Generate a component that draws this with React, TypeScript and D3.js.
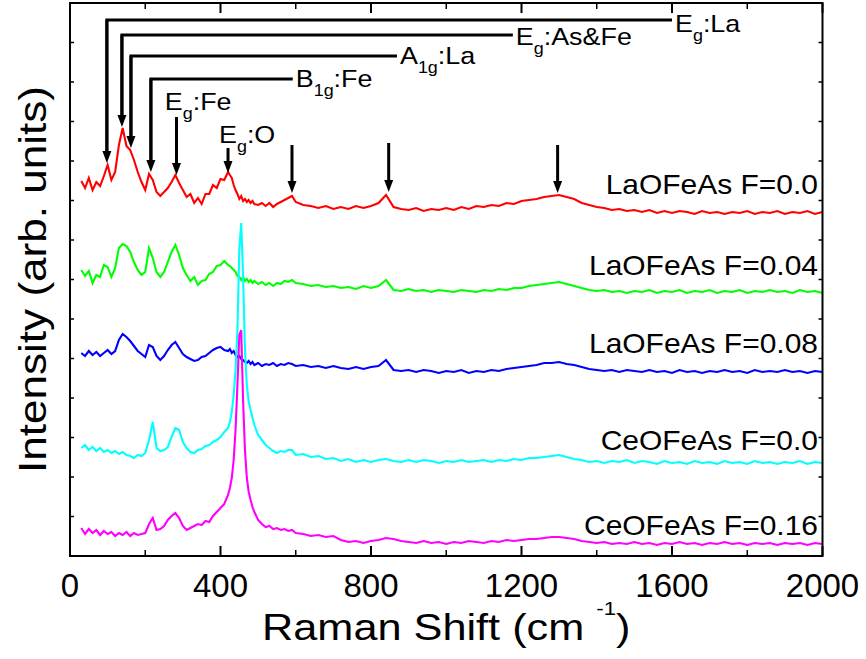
import * as d3 from 'd3';

// Raman shift grid (cm^-1), shared by all spectra
const shift = [
  30, 40, 50, 60, 70, 80, 90, 100, 110, 120,
  130, 140, 150, 160, 170, 180, 190, 200, 210, 220,
  230, 240, 250, 260, 270, 280, 290, 300, 310, 320,
  330, 340, 350, 360, 370, 380, 390, 400, 410, 420,
  425, 430, 435, 440, 445, 450, 455, 460, 465, 470, 475, 480, 485, 490,
  500, 510, 520, 530, 540, 550, 560, 570, 580, 590, 600,
  620, 640, 660, 680, 700, 720, 740, 760, 780, 800,
  820, 840, 860, 880, 900, 920, 940, 960, 980, 1000,
  1020, 1040, 1060, 1080, 1100, 1120, 1140, 1160, 1180, 1200,
  1220, 1240, 1260, 1280, 1300, 1320, 1340, 1360, 1380, 1400,
  1420, 1440, 1460, 1480, 1500, 1520, 1540, 1560, 1580, 1600,
  1620, 1640, 1660, 1680, 1700, 1720, 1740, 1760, 1780, 1800,
  1820, 1840, 1860, 1880, 1900, 1920, 1940, 1960, 1980, 2000,
];

// intensities (arb. units, offset stacked)
const laF000 = [
  375, 368, 378, 366, 374, 370, 380, 391, 376, 384,
  411, 428, 410, 406, 396, 384, 374, 366, 382, 376,
  364, 360, 364, 368, 374, 381, 373, 366, 359, 362,
  353, 358, 352, 362, 362, 371, 368, 377, 376, 384,
  381, 378, 371, 366, 362, 357, 360, 355, 357, 354, 356, 353, 355, 352,
  351, 353, 350, 353, 349, 352, 354, 356, 358, 360, 354,
  351, 350, 348, 350, 347, 349, 347, 350, 348, 350,
  353, 361, 349, 347, 346, 348, 345, 347, 346, 348,
  346, 349, 347, 350, 349, 351, 350, 353, 352, 355,
  356, 357, 359, 360, 361, 359, 357, 353, 351, 349,
  348, 346, 347, 345, 346, 344, 346, 343, 345, 343,
  345, 344, 342, 345, 343, 344, 342, 344, 343, 345,
  342, 344, 343, 345, 342, 344, 343, 345, 342, 344,
];

const laF004 = [
  286, 280, 285, 273, 281, 279, 291, 289, 279, 288,
  308, 312, 310, 304, 294, 286, 281, 284, 308, 298,
  284, 279, 284, 294, 304, 311, 301, 288, 281, 275,
  279, 271, 275, 276, 282, 284, 290, 291, 295, 291,
  290, 288, 286, 284, 280, 279, 276, 279, 275, 277, 274, 276, 273, 275,
  272, 274, 271, 273, 270, 273, 272, 275, 274, 276, 273,
  272, 270, 271, 269, 270, 268, 269, 267, 270, 268,
  270, 276, 266, 265, 267, 265, 266, 264, 266, 265,
  264, 266, 265, 264, 266, 265, 267, 266, 268, 268,
  270, 271, 272, 273, 274, 272, 270, 268, 266, 265,
  266, 264, 265, 263, 265, 264, 266, 263, 265, 264,
  266, 263, 265, 264, 266, 263, 265, 264, 266, 263,
  265, 264, 266, 264, 265, 263, 266, 264, 265, 263,
];

const laF008 = [
  203, 200, 205, 201, 204, 200, 203, 206, 202, 205,
  216, 222, 219, 215, 210, 205, 202, 199, 211, 209,
  200, 196, 200, 206, 211, 214, 208, 202, 199, 197,
  195, 196, 199, 200, 203, 206, 208, 209, 206, 205,
  207, 203, 205, 201, 199, 200, 197, 196, 194, 193, 195, 192, 194, 191,
  193, 190, 192, 191, 193, 190, 192, 191, 193, 192, 190,
  191, 189, 190, 188, 190, 188, 187, 189, 187, 189,
  190, 196, 186, 185, 186, 184, 186, 185, 183, 185,
  184, 186, 183, 185, 184, 186, 185, 187, 188, 189,
  190, 191, 193, 193, 194, 192, 191, 189, 187, 186,
  185, 186, 184, 186, 185, 184, 186, 184, 185, 183,
  186, 184, 185, 183, 185, 184, 186, 184, 185, 183,
  186, 184, 185, 184, 186, 184, 185, 183, 185, 184,
];

const ceF000 = [
  108, 111, 106, 109, 105, 108, 104, 106, 103, 105,
  102, 104, 101, 100, 98, 101, 100, 103, 116, 134,
  108, 105, 106, 109, 119, 128, 126, 114, 108, 104,
  103, 106, 107, 110, 111, 114, 116, 119, 124, 128,
  134, 144, 161, 186, 226, 306, 333, 281, 206, 171, 154, 146, 138, 131,
  121, 116, 111, 108, 105, 103, 105, 104, 106, 106, 101,
  102, 99, 100, 97, 98, 95, 97, 94, 96, 94,
  96, 97, 95, 94, 96, 94, 96, 95, 93, 95,
  94, 96, 94, 95, 96, 94, 96, 95, 97, 96,
  98, 98, 99, 100, 101, 99, 97, 96, 94, 95,
  93, 95, 94, 96, 93, 95, 94, 92, 95, 93,
  94, 92, 95, 93, 94, 92, 95, 93, 94, 92,
  95, 93, 94, 92, 94, 93, 95, 92, 94, 93,
];

const ceF016 = [
  28, 22, 27, 23, 26, 21, 25, 22, 24, 20,
  23, 21, 24, 20, 23, 21, 22, 23, 32, 38,
  26, 27, 30, 36, 40, 43, 38, 30, 26, 28,
  30, 32, 31, 35, 34, 40, 44, 48, 52, 61,
  68, 78, 96, 126, 171, 221, 226, 156, 106, 78, 64, 56, 49, 44,
  36, 32, 29, 30, 27, 28, 26, 27, 25, 26, 23,
  22, 20, 21, 19, 20, 16, 14, 15, 13, 15,
  16, 18, 17, 15, 14, 13, 15, 13, 14, 12,
  14, 13, 15, 14, 13, 15, 14, 16, 15, 16,
  17, 17, 18, 19, 19, 18, 17, 15, 14, 13,
  14, 12, 13, 12, 14, 12, 13, 11, 13, 12,
  14, 12, 13, 11, 13, 12, 14, 12, 13, 11,
  13, 12, 13, 11, 13, 12, 13, 11, 13, 12,
];

const seriesNames = [
  'LaOFeAs F=0.0',
  'LaOFeAs F=0.04',
  'LaOFeAs F=0.08',
  'CeOFeAs F=0.0',
  'CeOFeAs F=0.16',
];
const seriesValues = [laF000, laF004, laF008, ceF000, ceF016];
const seriesColors = ['#ff0000', '#00ff00', '#0000ff', '#00ffff', '#ff00ff'];
// where each name sits (baseline intensity)
const labelLevels = [362, 281, 203, 106, 21];

const xTicks = [0, 400, 800, 1200, 1600, 2000];
const xMinorTicks = [200, 600, 1000, 1400, 1800];

// phonon mode assignments with a bracket line from the label to the peak
const bracketModes = [
  { main: 'E', sub: 'g', rest: ':La', shift: 98, tip: 393, level: 536, end: 1600, textY: 524 },
  { main: 'E', sub: 'g', rest: ':As&Fe', shift: 138, tip: 429, level: 521, end: 1177, textY: 511 },
  { main: 'A', sub: '1g', rest: ':La', shift: 162, tip: 408, level: 500, end: 869, textY: 492 },
  { main: 'B', sub: '1g', rest: ':Fe', shift: 215, tip: 384, level: 477, end: 592, textY: 469 },
];

// straight arrows (some labelled)
const arrowModes = [
  { main: 'E', sub: 'g', rest: ':Fe', shift: 283, from: 439, tip: 381, textX: 252, textY: 446 },
  { main: 'E', sub: 'g', rest: ':O', shift: 420, from: 408, tip: 383, textX: 396, textY: 413 },
  { main: '', sub: '', rest: '', shift: 590, from: 411, tip: 363, textX: 0, textY: 0 },
  { main: '', sub: '', rest: '', shift: 847, from: 413, tip: 364, textX: 0, textY: 0 },
  { main: '', sub: '', rest: '', shift: 1296, from: 411, tip: 363, textX: 0, textY: 0 },
];

const width = 866;
const height = 659;
const margin = { top: 3, right: 43.5, bottom: 103, left: 70 };
const font = '"Liberation Sans", Arial, Helvetica, sans-serif';

function Arrow({ x, y1, y2 }: { x: number; y1: number; y2: number }) {
  const head = 12;
  return (
    <g>
      <line x1={x} x2={x} y1={y1} y2={y2 - head + 1} stroke="#000" strokeWidth={3} />
      <path d={`M${x - 4.5},${y2 - head}L${x + 4.5},${y2 - head}L${x},${y2}Z`} fill="#000" />
    </g>
  );
}

function ModeLabel({ x, y, main, sub, rest }: { x: number; y: number; main: string; sub: string; rest: string }) {
  return (
    <g transform={`translate(${x},${y}) scale(1.12,1)`}>
      <text fontFamily={font} fontSize={24} fill="#000">
        <tspan>{main}</tspan>
        <tspan fontSize={16} dy={9}>{sub}</tspan>
        <tspan dy={-9}>{rest}</tspan>
      </text>
    </g>
  );
}

export default function App() {
  const x = d3
    .scaleLinear()
    .domain([0, 2000])
    .range([margin.left, width - margin.right]);
  const y = d3
    .scaleLinear()
    .domain([0, 553])
    .range([height - margin.bottom, margin.top]);

  const yTicks = d3.range(0, 15).map((i) => (i * 553) / 14);

  const line = d3
    .line<number>()
    .x((d, i) => x(shift[i]))
    .y((d) => y(d));

  const x0 = x.range()[0];
  const x1 = x.range()[1];
  const yb = y.range()[0];
  const yt = y.range()[1];

  return (
    <svg
      width={width}
      height={height}
      style={{ position: 'absolute', left: 0, top: 0, background: '#fff' }}
    >
      <rect width={width} height={height} fill="#fff" />

      {seriesValues.map((vals, k) => (
        <path
          key={seriesNames[k]}
          d={line(vals) ?? ''}
          fill="none"
          stroke={seriesColors[k]}
          strokeWidth={2.1}
        />
      ))}

      {seriesNames.map((name, k) => (
        <g key={name} transform={`translate(${x(1988)},${y(labelLevels[k])}) scale(1.11,1)`}>
          <text fontFamily={font} fontSize={27} textAnchor="end" fill="#000">
            {name}
          </text>
        </g>
      ))}

      {bracketModes.map((m) => (
        <g key={m.rest + m.shift}>
          <path
            d={`M${x(m.end)},${y(m.level)}H${x(m.shift)}V${y(m.tip) - 11}`}
            fill="none"
            stroke="#000"
            strokeWidth={3}
          />
          <Arrow x={x(m.shift)} y1={y(m.level)} y2={y(m.tip)} />
          <ModeLabel x={x(m.end) + 3} y={y(m.textY)} main={m.main} sub={m.sub} rest={m.rest} />
        </g>
      ))}

      {arrowModes.map((m) => (
        <g key={'a' + m.shift}>
          <Arrow x={x(m.shift)} y1={y(m.from)} y2={y(m.tip)} />
          {m.main && <ModeLabel x={x(m.textX)} y={y(m.textY)} main={m.main} sub={m.sub} rest={m.rest} />}
        </g>
      ))}

      {/* frame */}
      <rect x={x0} y={yt} width={x1 - x0} height={yb - yt} fill="none" stroke="#000" strokeWidth={2} />

      {/* x ticks, inward on bottom and top */}
      {xTicks.map((t) => (
        <g key={'xt' + t}>
          <line x1={x(t)} x2={x(t)} y1={yb} y2={yb - 10} stroke="#000" strokeWidth={2} />
          <line x1={x(t)} x2={x(t)} y1={yt} y2={yt + 10} stroke="#000" strokeWidth={2} />
          <text
            x={x(t)}
            y={yb + 41}
            fontFamily={font}
            fontSize={33}
            textAnchor="middle"
            fill="#000"
          >
            {t}
          </text>
        </g>
      ))}
      {xMinorTicks.map((t) => (
        <g key={'xm' + t}>
          <line x1={x(t)} x2={x(t)} y1={yb} y2={yb - 6} stroke="#000" strokeWidth={1.5} />
          <line x1={x(t)} x2={x(t)} y1={yt} y2={yt + 6} stroke="#000" strokeWidth={1.5} />
        </g>
      ))}

      {/* y ticks, inward on left and right, no labels */}
      {yTicks.map((t, i) => (
        <g key={'yt' + i}>
          <line x1={x0} x2={x0 + 4} y1={y(t)} y2={y(t)} stroke="#000" strokeWidth={1.5} />
          <line x1={x1} x2={x1 - 4} y1={y(t)} y2={y(t)} stroke="#000" strokeWidth={1.5} />
        </g>
      ))}

      {/* axis titles */}
      <g transform={`translate(${(x0 + x1) / 2},${yb + 84}) scale(1.17,1)`}>
        <text fontFamily={font} fontSize={37} textAnchor="middle" fill="#000">
          <tspan>Raman Shift (cm </tspan>
          <tspan fontSize={19} dy={-25}>-1</tspan>
          <tspan dy={25}>)</tspan>
        </text>
      </g>
      <g transform={`translate(46,${(yt + yb) / 2}) rotate(-90) scale(1.13,1)`}>
        <text fontFamily={font} fontSize={39} textAnchor="middle" fill="#000">
          Intensity (arb. units)
        </text>
      </g>
    </svg>
  );
}
